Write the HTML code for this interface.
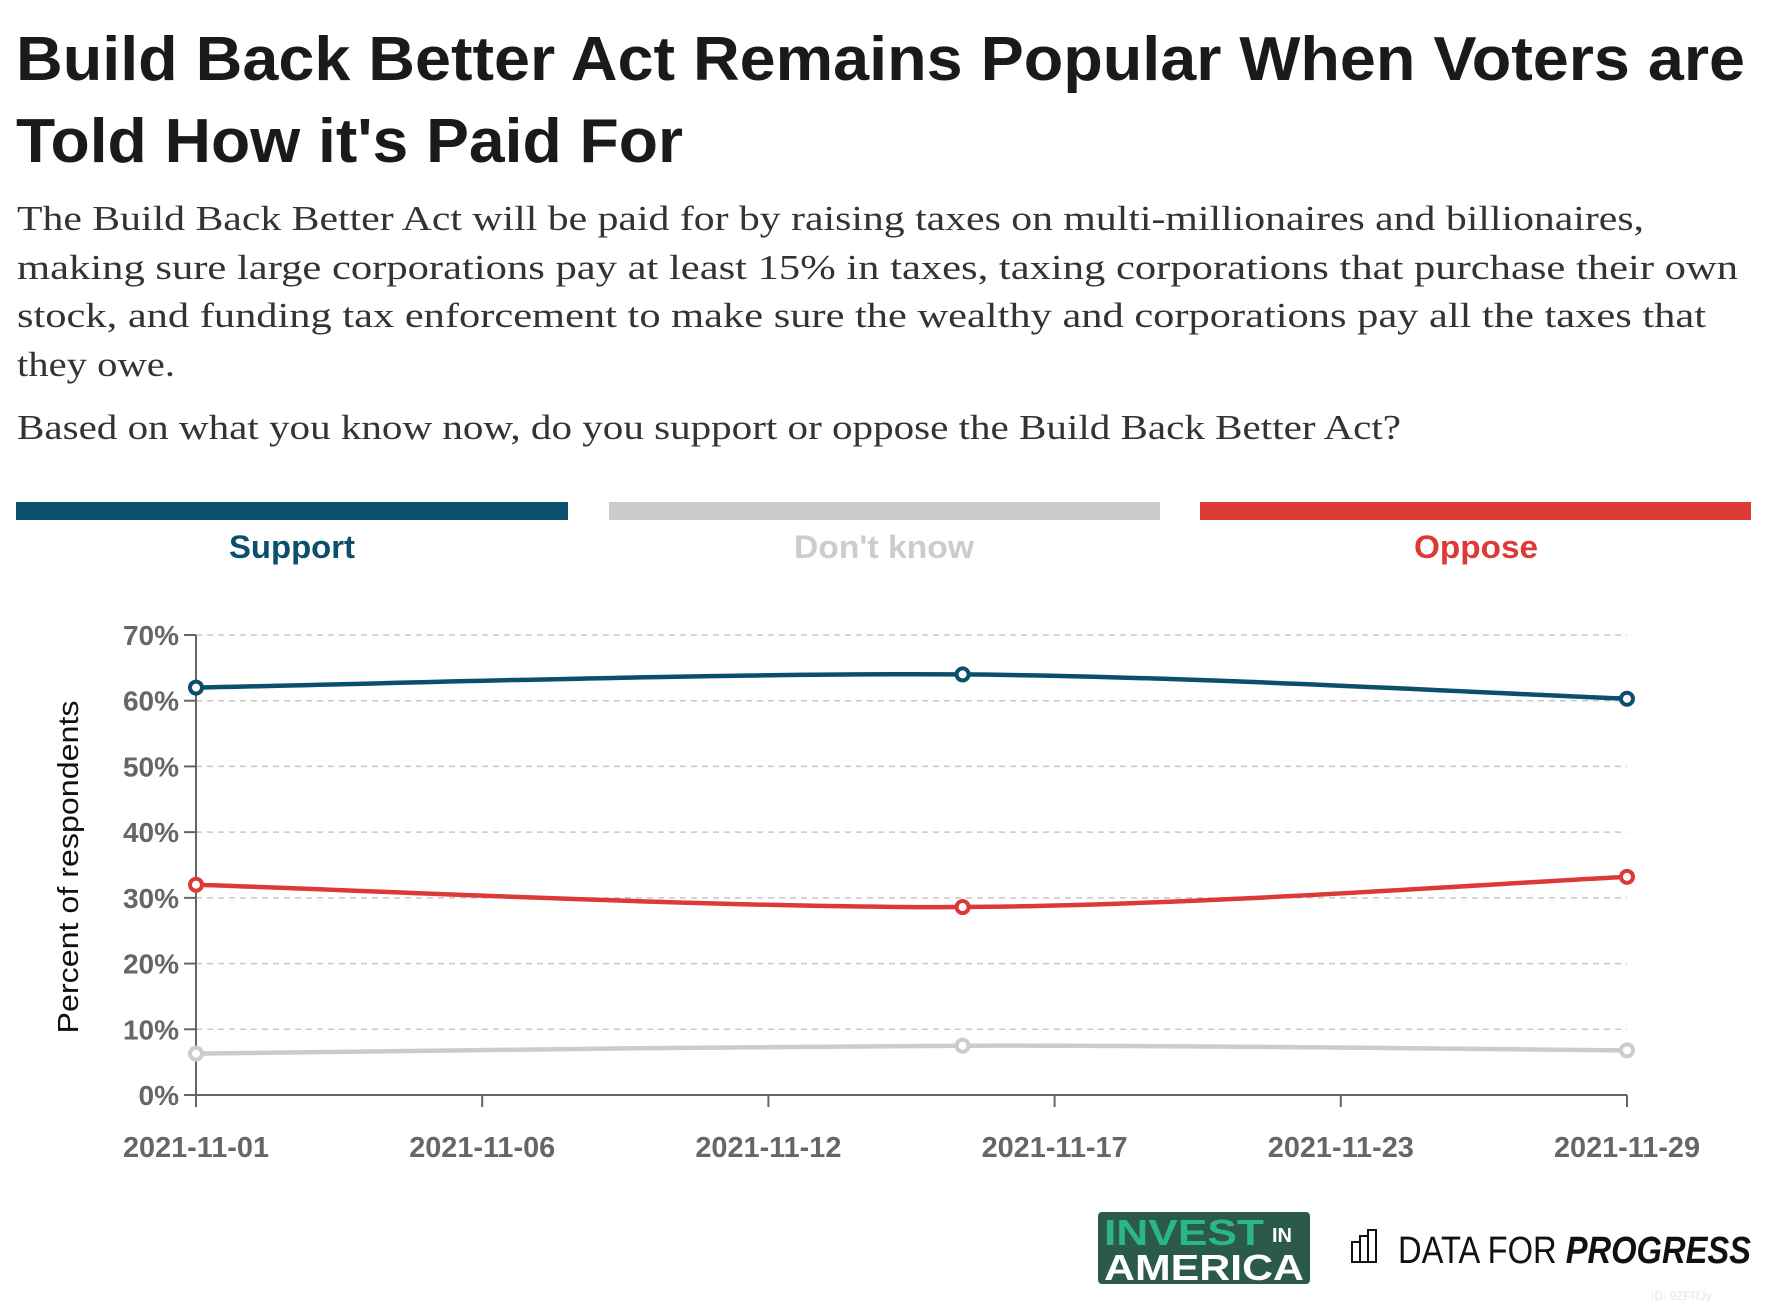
<!DOCTYPE html>
<html><head><meta charset="utf-8">
<style>
html,body{margin:0;padding:0;background:#fff;}
svg{display:block;}
</style></head>
<body>
<svg id="chart" width="1766" height="1306" viewBox="0 0 1766 1306" xmlns="http://www.w3.org/2000/svg" font-family="'Liberation Sans', sans-serif">
  <g font-weight="bold" fill="#1a1a1a" font-size="62">
    <text x="16" y="80" textLength="1729" lengthAdjust="spacingAndGlyphs">Build Back Better Act Remains Popular When Voters are</text>
    <text x="16" y="162" textLength="667" lengthAdjust="spacingAndGlyphs">Told How it's Paid For</text>
  </g>
  <g font-family="'Liberation Serif', serif" font-size="35" fill="#333">
    <text x="17" y="230" textLength="1627" lengthAdjust="spacingAndGlyphs">The Build Back Better Act will be paid for by raising taxes on multi-millionaires and billionaires,</text>
    <text x="17" y="279" textLength="1721" lengthAdjust="spacingAndGlyphs">making sure large corporations pay at least 15% in taxes, taxing corporations that purchase their own</text>
    <text x="17" y="327" textLength="1689" lengthAdjust="spacingAndGlyphs">stock, and funding tax enforcement to make sure the wealthy and corporations pay all the taxes that</text>
    <text x="17" y="376" textLength="158" lengthAdjust="spacingAndGlyphs">they owe.</text>
    <text x="17" y="439" textLength="1384" lengthAdjust="spacingAndGlyphs">Based on what you know now, do you support or oppose the Build Back Better Act?</text>
  </g>
  <g font-size="32" font-weight="bold" text-anchor="middle">
    <rect x="16" y="502" width="552" height="18" fill="#0b4f6c"/>
    <text x="292" y="558" fill="#0b4f6c" textLength="126" lengthAdjust="spacingAndGlyphs">Support</text>
    <rect x="609" y="502" width="551" height="18" fill="#cfcacc"/>
    <text x="884" y="558" fill="#cfcacc" textLength="180" lengthAdjust="spacingAndGlyphs">Don't know</text>
    <rect x="1200" y="502" width="551" height="18" fill="#dc3a36"/>
    <text x="1476" y="558" fill="#dc3a36" textLength="124" lengthAdjust="spacingAndGlyphs">Oppose</text>
  </g>
  <g id="plot"></g>
  <text transform="translate(78,867) rotate(-90)" text-anchor="middle" font-size="29" fill="#111" textLength="333" lengthAdjust="spacingAndGlyphs">Percent of respondents</text>
  <g font-family="'Liberation Sans', sans-serif" font-weight="bold">
    <rect x="1098" y="1212" width="212" height="72" rx="4" fill="#2c5a4a"/>
    <text x="1104" y="1245" font-size="36" fill="#2bb58a" textLength="160" lengthAdjust="spacingAndGlyphs">INVEST</text>
    <text x="1272" y="1242" font-size="20" fill="#fff">IN</text>
    <text x="1104" y="1280" font-size="36" fill="#fff" textLength="200" lengthAdjust="spacingAndGlyphs">AMERICA</text>
  </g>
  <g>
    <g fill="none" stroke="#111" stroke-width="2">
      <rect x="1352" y="1242" width="8" height="20"/><rect x="1360" y="1236" width="8" height="26"/><rect x="1368" y="1230" width="8" height="32"/>
    </g>
    <text x="1398" y="1263" font-size="38" fill="#111" textLength="353" lengthAdjust="spacingAndGlyphs"><tspan>DATA FOR </tspan><tspan font-weight="bold" font-style="italic">PROGRESS</tspan></text>
    <text x="1651" y="1300" font-size="12" fill="#e6e6e6">ID: 9ZFRJy</text>
  </g>
</svg>
<script>
const dates = ["2021-11-01", "2021-11-16", "2021-11-29"];
const support = [62.0, 64.0, 60.3];
const oppose = [32.0, 28.6, 33.2];
const dontKnow = [6.3, 7.5, 6.8];
const yTicks = [0, 10, 20, 30, 40, 50, 60, 70];
const xTickLabels = ["2021-11-01", "2021-11-06", "2021-11-12", "2021-11-17", "2021-11-23", "2021-11-29"];

const NS = "http://www.w3.org/2000/svg";
const plot = document.getElementById("plot");
const X0 = 196, X1 = 1627, Y0 = 1095, Y1 = 635;
const t0 = Date.parse(dates[0]), t1 = Date.parse(dates[dates.length - 1]);
function xScale(d) { return X0 + (Date.parse(d) - t0) / (t1 - t0) * (X1 - X0); }
function yScale(v) { return Y0 - v / 70 * (Y0 - Y1); }
function mk(tag, attrs) { const e = document.createElementNS(NS, tag); for (const k in attrs) e.setAttribute(k, attrs[k]); plot.appendChild(e); return e; }

yTicks.forEach(v => {
  const y = yScale(v);
  if (v > 0) {
    const g = mk("line", {x1: X0, x2: X1, y1: y, y2: y, stroke: "#c8c8c8", "stroke-width": 1.5, "stroke-dasharray": "6,5"});
    
    
  }
  const tk = mk("line", {x1: X0 - 12, x2: X0, y1: y, y2: y, stroke: "#666", "stroke-width": 2});
  
  
  const t = mk("text", {x: X0 - 17, y: y + 10, "text-anchor": "end", "font-size": 28, "font-weight": "bold", fill: "#666"});
  t.textContent = v + "%";
  
  
});
const ax = mk("line", {x1: X0, x2: X0, y1: Y1, y2: Y0, stroke: "#666", "stroke-width": 2});


const bx = mk("line", {x1: X0 - 12, x2: X1, y1: Y0, y2: Y0, stroke: "#666", "stroke-width": 2});


xTickLabels.forEach((lab, i) => {
  const x = X0 + i / (xTickLabels.length - 1) * (X1 - X0);
  const tk = mk("line", {x1: x, x2: x, y1: Y0, y2: Y0 + 12, stroke: "#666", "stroke-width": 2});
  
  
  const t = mk("text", {x: x, y: 1157, "text-anchor": "middle", "font-size": 29, "font-weight": "bold", fill: "#666", textLength: 146, lengthAdjust: "spacingAndGlyphs"});
  t.textContent = lab;
  
  
});

function curvePath(pts) {
  let d = "M" + pts[0][0] + "," + pts[0][1];
  for (let i = 0; i < pts.length - 1; i++) {
    const p0 = pts[i - 1] || pts[i], p1 = pts[i], p2 = pts[i + 1], p3 = pts[i + 2] || p2;
    const c1 = [p1[0] + (p2[0] - p0[0]) / 6, p1[1] + (p2[1] - p0[1]) / 6];
    const c2 = [p2[0] - (p3[0] - p1[0]) / 6, p2[1] - (p3[1] - p1[1]) / 6];
    d += " C" + c1.join(",") + " " + c2.join(",") + " " + p2.join(",");
  }
  return d;
}
const series = [["dontknow", dontKnow, "#cfcacc"], ["oppose", oppose, "#dc3a36"], ["support", support, "#0b4f6c"]];
series.forEach(([name, vals, col]) => {
  const pts = vals.map((v, i) => [xScale(dates[i]), yScale(v)]);
  const p = mk("path", {d: curvePath(pts), fill: "none", stroke: col, "stroke-width": 4.5});
  
  
  pts.forEach(pt => {
    const c = mk("circle", {cx: pt[0], cy: pt[1], r: 6, fill: "#fff", stroke: col, "stroke-width": 4});
    
    
  });
});
</script>
</body></html>
